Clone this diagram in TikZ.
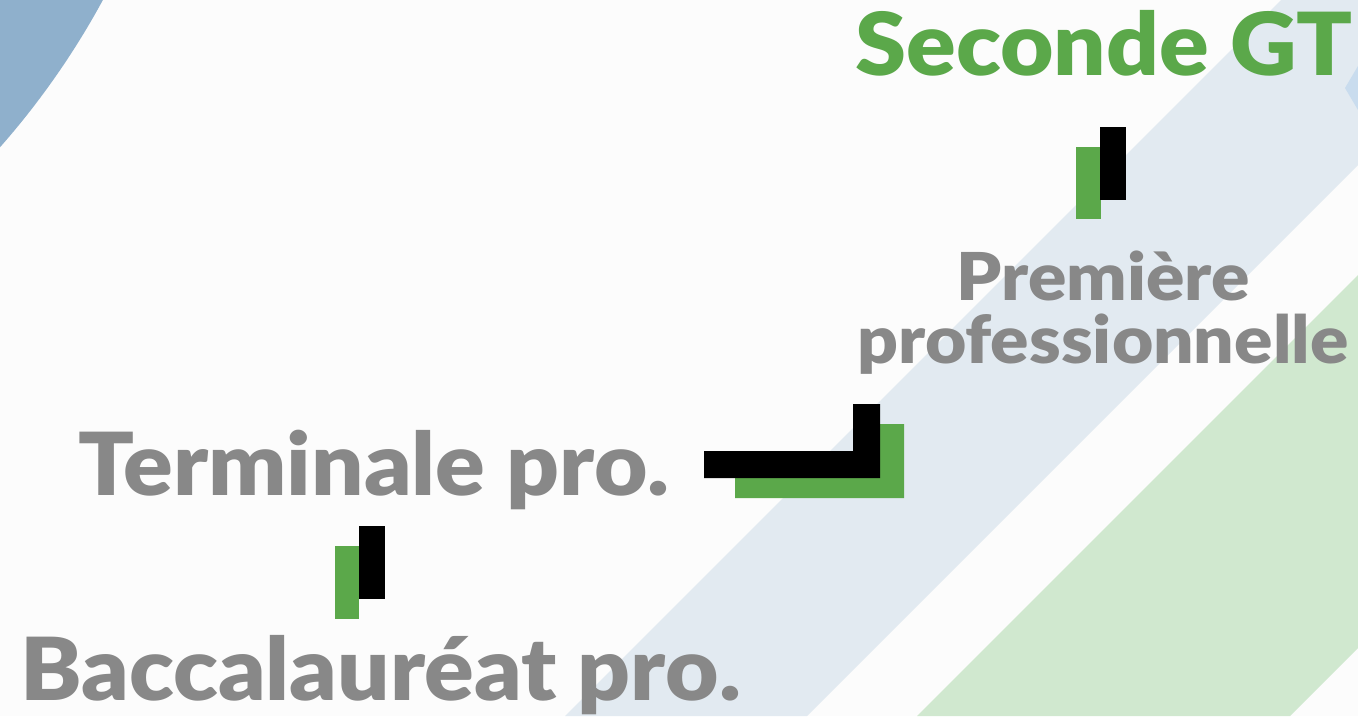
\documentclass[tikz,border=0pt]{standalone}
\usepackage{fontspec}
\setmainfont{Lato}[BoldFont={Lato Black}]
\usetikzlibrary{positioning}
\definecolor{stepgreen}{HTML}{5BA84A}
\definecolor{stepgrey}{HTML}{888888}
\definecolor{bandblue}{HTML}{E2EAF1}
\definecolor{bandgreen}{HTML}{D0E8CF}
\definecolor{discblue}{HTML}{8FB0CC}
\definecolor{tipblue}{HTML}{C9DCEE}
\definecolor{paper}{HTML}{FCFCFC}

\begin{document}
\begin{tikzpicture}[x=1pt,y=-1pt,
  level/.style={font={\bfseries\fontsize{87}{87}\selectfont\addfontfeature{FakeStretch=1.06}},text=stepgrey,inner sep=0pt,anchor=base west},
  sublevel/.style={font={\bfseries\fontsize{66}{63}\selectfont\addfontfeature{FakeStretch=1.08}},text=stepgrey,inner sep=0pt,align=center,anchor=base},
  shadowbar/.style={fill=stepgreen},
  mainbar/.style={fill=black}]
\useasboundingbox (0,0) rectangle (1358,716);
\clip (0,0) rectangle (1358,716);
\fill[paper] (0,0) rectangle (1358,716);
% background
\fill[discblue] (-599,-380) circle[radius=798pt];
\fill[bandblue] (565,716) -- (1281,0) -- (1523,0) -- (807,716) -- cycle;
\fill[bandgreen] (917,716) -- (1633,0) -- (2006,0) -- (1290,716) -- cycle;
\fill[tipblue] (1345,88) -- (1358,66) -- (1358,110) -- cycle;

% stages
\node[level,text=stepgreen] (sec) at (855,75) {Seconde GT};
\node[sublevel] (prem) at (1103,363) {Première\\professionnelle};
\node[level] (term) at (78,495) {Terminale pro.};
\node[level] (bac) at (20,700) {Baccalauréat pro.};

% steps between the stages
\fill[shadowbar] (1076,147) rectangle (1101,219);
\fill[mainbar] (1100,127) rectangle (1126,200);
\fill[shadowbar] (735,471) -- (877,471) -- (877,424) -- (904,424) -- (904,498) -- (735,498) -- cycle;
\fill[mainbar] (704,451) -- (853,451) -- (853,404) -- (880,404) -- (880,478) -- (704,478) -- cycle;
\fill[shadowbar] (335,546) rectangle (359,619);
\fill[mainbar] (359,526) rectangle (385,599);
\end{tikzpicture}
\end{document}
